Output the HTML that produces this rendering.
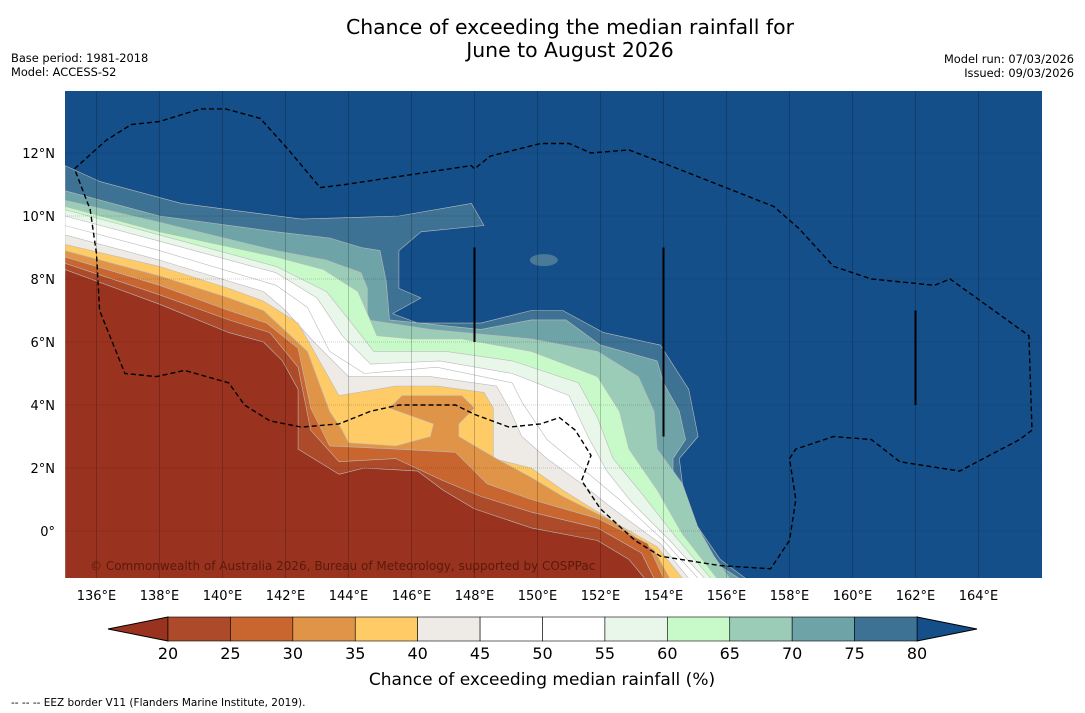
<!DOCTYPE html>
<html><head><meta charset="utf-8"><style>
body{margin:0;background:#fff;font-family:"DejaVu Sans","Liberation Sans",sans-serif}
svg{display:block}
</style></head><body>
<svg id="chart" width="1085" height="713" viewBox="0 0 1085 713" font-family="DejaVu Sans, Liberation Sans, sans-serif">
<text x="570" y="34" font-size="20.4" text-anchor="middle">Chance of exceeding the median rainfall for</text>
<text x="570" y="57" font-size="20.4" text-anchor="middle">June to August 2026</text>
<text x="11" y="62" font-size="11.4">Base period: 1981-2018</text>
<text x="11" y="76" font-size="11.4">Model: ACCESS-S2</text>
<text x="1074" y="63" font-size="11.4" text-anchor="end">Model run: 07/03/2026</text>
<text x="1074" y="77" font-size="11.4" text-anchor="end">Issued: 09/03/2026</text>
<defs><clipPath id="mapclip"><rect x="65" y="91" width="977" height="487"/></clipPath></defs>
<g id="map" clip-path="url(#mapclip)"></g>
<g id="axes"></g>
<g id="cbar"></g>
<text x="542" y="685" font-size="17" text-anchor="middle">Chance of exceeding median rainfall (%)</text>
<text x="11" y="706" font-size="10.5">--  --  -- EEZ border V11 (Flanders Marine Institute, 2019).</text>
</svg>
<script>
const NS="http://www.w3.org/2000/svg";
const lonTicks=[136,138,140,142,144,146,148,150,152,154,156,158,160,162,164];
const latTicks=[0,2,4,6,8,10,12];
const levels=[20,25,30,35,40,45,50,55,60,65,70,75,80];
const bandColors=["#99321f","#ad4a2a","#c9652f","#e09448","#fecb66","#eeebe6","#ffffff","#ffffff","#e9f6ea","#c8fac9","#9bccb7","#6ea3a8","#3e7294","#154f8a"];
const c80=[[135,11.6],[136.1,11.1],[138.7,10.4],[142.5,9.9],[145.6,10.0],[147.9,10.4],[148.3,9.7],[146.3,9.5],[145.6,8.9],[145.6,7.7],[146.3,7.4],[145.4,6.9],[146.2,6.6],[148.2,6.6],[149.8,7.0],[150.8,7.0],[152.1,6.3],[153.9,5.9],[154.8,4.5],[155.1,3.0],[154.5,2.3],[154.7,0.7],[155.8,-0.9],[156.6,-1.5],[135,-1.5]];
const c75=[[135,10.8],[138,10.0],[141.7,9.5],[143.4,9.3],[144.4,9.0],[145,8.9],[145.2,7.9],[145.3,6.7],[148.2,6.4],[149.8,6.7],[150.9,6.7],[152,5.9],[153.8,5.4],[154,4.7],[154.5,3.8],[154.7,2.9],[154.3,2.3],[154.3,0.4],[155.3,-0.8],[156.4,-1.5],[135,-1.5]];
const c70=[[135,10.5],[138,9.8],[141.7,8.9],[143.3,8.6],[144.4,8.2],[144.6,7.7],[144.6,6.7],[146.6,6.4],[149.8,6.1],[151.9,5.7],[153.2,4.9],[153.7,3.8],[153.8,2.6],[154.6,1.5],[155.1,0.1],[155.6,-0.8],[156.1,-1.5],[135,-1.5]];
const c65=[[135,10.3],[138,9.5],[141.7,8.7],[143.2,8.3],[144.3,7.6],[144.9,6.2],[146.0,6.1],[147.6,6.1],[149.8,5.7],[151.9,4.9],[152.6,3.8],[152.9,2.6],[153.8,1.3],[154.6,-0.1],[155.7,-1.5],[135,-1.5]];
const c60=[[135,10.2],[138,9.4],[141.7,8.4],[143.3,7.6],[144.1,6.6],[144.8,5.7],[147.1,5.7],[149.2,5.4],[151.3,4.7],[151.9,3.6],[152.4,2.3],[153.3,1.2],[154.4,-0.2],[155.5,-1.5],[135,-1.5]];
const c55=[[135,10.0],[138,9.2],[141.7,8.2],[143.0,7.4],[143.8,6.2],[144.7,5.3],[146.9,5.4],[149.2,5.0],[151.0,4.3],[151.6,3.0],[152.2,1.9],[153.0,0.9],[154.2,-0.3],[155.3,-1.5],[135,-1.5]];
const c50=[[135,9.7],[138,8.9],[141.7,7.8],[142.7,7.1],[143.4,5.7],[144.5,5.0],[146.8,5.2],[149.2,4.7],[149.5,4.1],[150.3,2.9],[151.4,2.0],[152.6,1.0],[154.0,-0.3],[155.1,-1.5],[135,-1.5]];
const c45=[[135,9.4],[138,8.6],[141.3,7.6],[142.0,7.0],[142.9,6.0],[144.0,4.9],[146.6,4.9],[148.7,4.6],[149.1,3.9],[149.5,3.0],[150.3,2.3],[151.4,1.5],[152.4,0.7],[153.9,-0.4],[154.8,-1.5],[135,-1.5]];
const c40=[[135,9.1],[138,8.4],[140.2,7.7],[141.3,7.3],[142.4,6.6],[143.7,4.3],[145.5,4.6],[146.8,4.6],[148.3,4.4],[148.6,3.9],[148.6,2.3],[149.8,2.0],[150.8,1.3],[152.4,0.3],[153.8,-0.5],[154.6,-1.5],[135,-1.5]];
const c35=[[135,8.9],[138,8.1],[140.2,7.4],[141.3,7.0],[142.7,5.7],[143.4,3.8],[143.8,3.2],[144.0,2.8],[145.5,2.7],[146.6,3.0],[146.7,3.4],[145.3,3.9],[145.7,4.3],[147.6,4.3],[148.0,3.9],[147.5,3.4],[147.5,3.0],[148.7,2.3],[149.8,1.7],[150.8,1.1],[152.4,0.3],[153.7,-0.6],[154.2,-1.5],[135,-1.5]];
const c30=[[135,8.7],[138,7.8],[140.2,7.0],[141.4,6.6],[142.4,5.8],[142.8,3.9],[143.4,2.7],[145.5,2.6],[147.4,2.5],[148.4,1.5],[149.8,1.0],[151.9,0.4],[153.5,-0.4],[154.0,-1.5],[135,-1.5]];
const c25=[[135,8.5],[138,7.5],[140.2,6.7],[141.5,6.3],[142.4,5.2],[142.8,3.2],[143.7,2.2],[145.5,2.3],[147.0,1.6],[148.2,1.1],[149.8,0.6],[151.9,0.1],[153.3,-0.7],[153.7,-1.5],[135,-1.5]];
const c20=[[135,8.3],[138,7.2],[140.2,6.3],[141.3,6.0],[141.9,5.4],[142.4,4.5],[142.4,2.6],[143.7,1.8],[144.5,2.0],[146.2,1.9],[147.0,1.3],[148.0,0.7],[149.8,0.1],[151.9,-0.3],[152.9,-0.9],[153.4,-1.5],[135,-1.5]];
const contours={20:c20,25:c25,30:c30,35:c35,40:c40,45:c45,50:c50,55:c55,60:c60,65:c65,70:c70,75:c75,80:c80};
const eez=[[135.3,11.5],[136.3,12.4],[137.1,12.9],[138.0,13.0],[139.3,13.4],[140.1,13.4],[141.2,13.1],[142.1,12.1],[143.1,10.9],[143.9,11.0],[147.9,11.6],[148.0,11.5],[148.5,11.9],[150.1,12.3],[151.0,12.3],[151.7,12.0],[152.9,12.1],[154.2,11.6],[157.5,10.3],[158.3,9.6],[159.4,8.4],[160.6,8.0],[162.6,7.8],[163.1,8.0],[165.6,6.2],[165.7,3.2],[165.3,2.9],[163.4,1.9],[161.5,2.2],[160.6,2.9],[159.4,3.0],[158.2,2.6],[158.0,2.3],[158.2,1.0],[158.0,-0.3],[157.4,-1.2],[155.8,-1.1],[153.9,-0.8],[153.1,-0.3],[152.0,0.7],[151.4,1.6],[151.7,2.4],[151.2,3.2],[150.7,3.6],[150.1,3.4],[149.1,3.3],[148.0,3.7],[147.4,4.0],[145.6,4.0],[144.7,3.8],[143.7,3.4],[142.5,3.3],[141.5,3.5],[140.7,4.0],[140.2,4.7],[138.8,5.1],[137.9,4.9],[136.9,5.0],[136.1,7.0],[136.0,8.8],[135.8,10.2],[135.3,11.5]];
const X=lon=>65+(lon-135)*31.5;
const Y=lat=>531-lat*31.5;
const map=document.getElementById('map');
function mk(tag,attrs,parent){const e=document.createElementNS(NS,tag);for(const k in attrs)e.setAttribute(k,attrs[k]);parent.appendChild(e);return e;}
let bg=mk('rect',{x:65,y:91,width:977,height:487,fill:bandColors[13]},map);


for(let i=levels.length-1;i>=0;i--){
  const lv=levels[i];
  const pts=contours[lv].map(p=>X(p[0]).toFixed(1)+','+Y(p[1]).toFixed(1)).join(' ');
  const pg=mk('polygon',{points:pts,fill:bandColors[i],stroke:'#bbb',"stroke-width":0.6,"stroke-linejoin":"round"},map);
  
  
}
let isl=mk('ellipse',{cx:X(150.2),cy:Y(8.6),rx:14,ry:6,fill:'#4a7a98'},map);


for(const l of lonTicks){const g=mk('line',{x1:X(l),x2:X(l),y1:91,y2:578,stroke:'#000',"stroke-opacity":0.35,"stroke-width":0.6},map);

}
for(const l of latTicks){const g=mk('line',{x1:65,x2:1042,y1:Y(l),y2:Y(l),stroke:'#000',"stroke-opacity":0.35,"stroke-width":0.6,"stroke-dasharray":"1,1"},map);

}
let ez=mk('polyline',{points:eez.map(p=>X(p[0]).toFixed(1)+','+Y(p[1]).toFixed(1)).join(' '),fill:'none',stroke:'#000',"stroke-width":1.4,"stroke-dasharray":"5,3"},map);


const bars=[[148,6,9],[154,3,9],[162,4,7]];
for(const b of bars){const l=mk('line',{x1:X(b[0]),x2:X(b[0]),y1:Y(b[2]),y2:Y(b[1]),stroke:'#000',"stroke-width":2},map);

}
let cp=mk('text',{x:90,y:570,"font-size":12,fill:'#5a1a0a'},map);cp.textContent='© Commonwealth of Australia 2026, Bureau of Meteorology, supported by COSPPac';


const ax=document.getElementById('axes');
for(const l of lonTicks){const t=mk('text',{x:X(l),y:600,"font-size":13,"text-anchor":"middle"},ax);t.textContent=l+'°E';

}
for(const l of latTicks){const t=mk('text',{x:55,y:Y(l)+5,"font-size":13,"text-anchor":"end"},ax);t.textContent=l===0?'0°':l+'°N';

}
const cb=document.getElementById('cbar');
const cx=v=>168+(v-20)*(749/60);
let lt=mk('polygon',{points:'168,617 108,629 168,641',fill:bandColors[0],stroke:'#000',"stroke-width":1},cb);


let rt=mk('polygon',{points:'917,617 977,629 917,641',fill:bandColors[13],stroke:'#000',"stroke-width":1},cb);


for(let i=0;i<levels.length-1;i++){const r=mk('rect',{x:cx(levels[i]),y:617,width:cx(levels[i+1])-cx(levels[i]),height:24,fill:bandColors[i+1],stroke:'#000',"stroke-width":0.6},cb);

}
for(const v of levels){const t=mk('text',{x:cx(v),y:659,"font-size":16,"text-anchor":"middle"},cb);t.textContent=v;

}
</script>
</body></html>
